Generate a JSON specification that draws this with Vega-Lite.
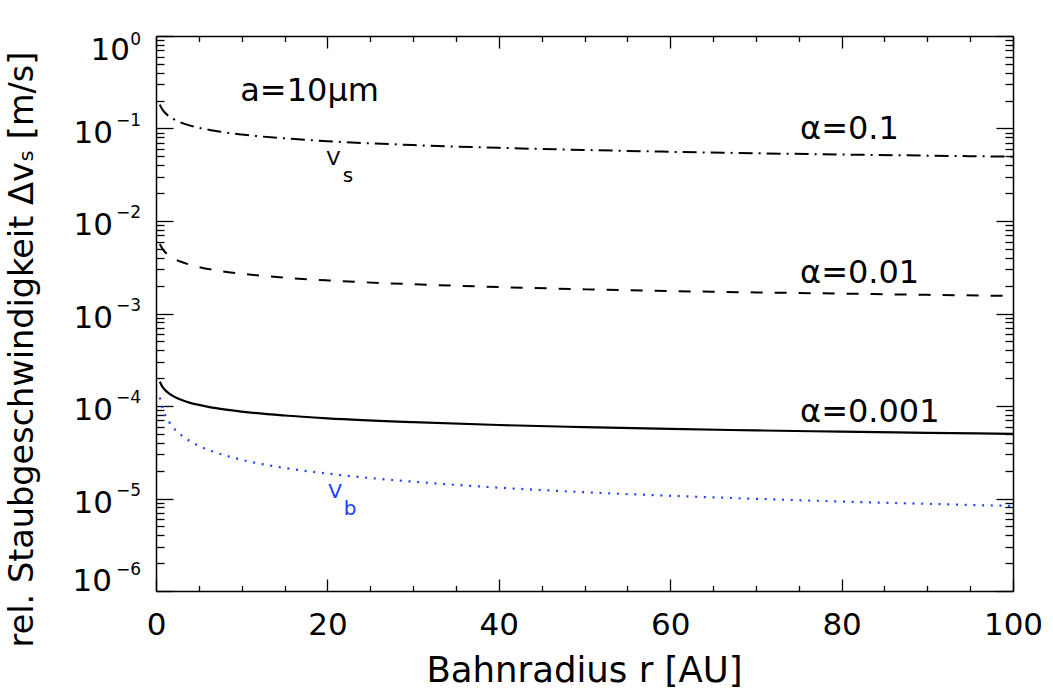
{
  "$schema": "https://vega.github.io/schema/vega-lite/v6.json",
  "autosize": "none",
  "width": 857,
  "height": 555,
  "padding": {"left": 156, "top": 36, "right": 40, "bottom": 105},
  "background": "white",
  "config": {
    "view": {"stroke": null},
    "font": "DejaVu Sans",
    "axis": {
      "grid": false,
      "domainColor": "black",
      "domainWidth": 1.5,
      "tickColor": "black",
      "tickWidth": 1.3,
      "labelFont": "DejaVu Sans",
      "labelFontSize": 31,
      "labelColor": "black",
      "labelOverlap": false,
      "labelBound": false,
      "labelFlush": false,
      "titleFont": "DejaVu Sans",
      "titleFontSize": 33.5,
      "titleFontWeight": "normal",
      "titleColor": "black"
    },
    "text": {"font": "DejaVu Sans", "color": "black", "baseline": "alphabetic"}
  },
  "datasets": {
    "curves": [
      {"r": 0.45, "v": 0.1814, "s": "a01"}, {"r": 0.6, "v": 0.1693, "s": "a01"}, {"r": 0.8, "v": 0.158, "s": "a01"},
      {"r": 1, "v": 0.1498, "s": "a01"}, {"r": 1.5, "v": 0.1359, "s": "a01"}, {"r": 2, "v": 0.1268, "s": "a01"},
      {"r": 3, "v": 0.1151, "s": "a01"}, {"r": 4, "v": 0.1074, "s": "a01"}, {"r": 5, "v": 0.1018, "s": "a01"},
      {"r": 7, "v": 0.0939, "s": "a01"}, {"r": 10, "v": 0.0862, "s": "a01"}, {"r": 15, "v": 0.0782, "s": "a01"},
      {"r": 20, "v": 0.073, "s": "a01"}, {"r": 30, "v": 0.0662, "s": "a01"}, {"r": 40, "v": 0.0618, "s": "a01"},
      {"r": 50, "v": 0.0586, "s": "a01"}, {"r": 60, "v": 0.056, "s": "a01"}, {"r": 70, "v": 0.054, "s": "a01"},
      {"r": 80, "v": 0.0523, "s": "a01"}, {"r": 90, "v": 0.0509, "s": "a01"}, {"r": 100, "v": 0.0496, "s": "a01"},

      {"r": 0.45, "v": 0.00567, "s": "a001"}, {"r": 0.6, "v": 0.00529, "s": "a001"}, {"r": 0.8, "v": 0.00494, "s": "a001"},
      {"r": 1, "v": 0.00468, "s": "a001"}, {"r": 1.5, "v": 0.00425, "s": "a001"}, {"r": 2, "v": 0.00396, "s": "a001"},
      {"r": 3, "v": 0.0036, "s": "a001"}, {"r": 4, "v": 0.00336, "s": "a001"}, {"r": 5, "v": 0.00318, "s": "a001"},
      {"r": 7, "v": 0.00293, "s": "a001"}, {"r": 10, "v": 0.00269, "s": "a001"}, {"r": 15, "v": 0.00244, "s": "a001"},
      {"r": 20, "v": 0.00228, "s": "a001"}, {"r": 30, "v": 0.00207, "s": "a001"}, {"r": 40, "v": 0.00193, "s": "a001"},
      {"r": 50, "v": 0.00183, "s": "a001"}, {"r": 60, "v": 0.00175, "s": "a001"}, {"r": 70, "v": 0.00169, "s": "a001"},
      {"r": 80, "v": 0.00164, "s": "a001"}, {"r": 90, "v": 0.00159, "s": "a001"}, {"r": 100, "v": 0.00155, "s": "a001"},

      {"r": 0.45, "v": 0.000183, "s": "a0001"}, {"r": 0.6, "v": 0.000171, "s": "a0001"}, {"r": 0.8, "v": 0.000159, "s": "a0001"},
      {"r": 1, "v": 0.000151, "s": "a0001"}, {"r": 1.5, "v": 0.000137, "s": "a0001"}, {"r": 2, "v": 0.000128, "s": "a0001"},
      {"r": 3, "v": 0.000116, "s": "a0001"}, {"r": 4, "v": 0.000108, "s": "a0001"}, {"r": 5, "v": 0.000103, "s": "a0001"},
      {"r": 7, "v": 0.0000947, "s": "a0001"}, {"r": 10, "v": 0.0000869, "s": "a0001"}, {"r": 15, "v": 0.0000789, "s": "a0001"},
      {"r": 20, "v": 0.0000736, "s": "a0001"}, {"r": 30, "v": 0.0000668, "s": "a0001"}, {"r": 40, "v": 0.0000623, "s": "a0001"},
      {"r": 50, "v": 0.0000591, "s": "a0001"}, {"r": 60, "v": 0.0000565, "s": "a0001"}, {"r": 70, "v": 0.0000545, "s": "a0001"},
      {"r": 80, "v": 0.0000528, "s": "a0001"}, {"r": 90, "v": 0.0000513, "s": "a0001"}, {"r": 100, "v": 0.00005, "s": "a0001"},

      {"r": 0.45, "v": 0.0001237, "s": "vb"}, {"r": 0.6, "v": 0.0001071, "s": "vb"}, {"r": 0.8, "v": 0.0000928, "s": "vb"},
      {"r": 1, "v": 0.000083, "s": "vb"}, {"r": 1.5, "v": 0.0000678, "s": "vb"}, {"r": 2, "v": 0.0000587, "s": "vb"},
      {"r": 3, "v": 0.0000479, "s": "vb"}, {"r": 4, "v": 0.0000415, "s": "vb"}, {"r": 5, "v": 0.0000371, "s": "vb"},
      {"r": 7, "v": 0.0000314, "s": "vb"}, {"r": 10, "v": 0.0000262, "s": "vb"}, {"r": 15, "v": 0.0000214, "s": "vb"},
      {"r": 20, "v": 0.0000186, "s": "vb"}, {"r": 30, "v": 0.0000152, "s": "vb"}, {"r": 40, "v": 0.0000131, "s": "vb"},
      {"r": 50, "v": 0.0000117, "s": "vb"}, {"r": 60, "v": 0.0000107, "s": "vb"}, {"r": 70, "v": 0.00000992, "s": "vb"},
      {"r": 80, "v": 0.00000928, "s": "vb"}, {"r": 90, "v": 0.00000875, "s": "vb"}, {"r": 100, "v": 0.0000083, "s": "vb"}
    ],
    "decadeTop": [
      {"r": 0, "v": 1, "m": "10", "e": "0"}
    ],
    "decadeMid": [
      {"r": 0, "v": 0.1, "m": "10", "e": "−1"},
      {"r": 0, "v": 0.01, "m": "10", "e": "−2"},
      {"r": 0, "v": 0.001, "m": "10", "e": "−3"},
      {"r": 0, "v": 0.0001, "m": "10", "e": "−4"},
      {"r": 0, "v": 0.00001, "m": "10", "e": "−5"}
    ],
    "decadeBottom": [
      {"r": 0, "v": 0.000001, "m": "10", "e": "−6"}
    ]
  },
  "data": {"name": "curves"},
  "layer": [
    {
      "encoding": {
        "x": {
          "field": "r", "type": "quantitative",
          "scale": {"domain": [0, 100], "nice": false, "zero": false},
          "axis": {
            "orient": "bottom",
            "values": [0, 5, 10, 15, 20, 25, 30, 35, 40, 45, 50, 55, 60, 65, 70, 75, 80, 85, 90, 95, 100],
            "format": "d",
            "labelExpr": "datum.value % 20 == 0 ? datum.label : ''",
            "tickSize": {"condition": {"test": "datum.value % 20 == 0", "value": -12}, "value": -5.5},
            "labelBaseline": "alphabetic",
            "labelPadding": 55,
            "title": "Bahnradius r [AU]",
            "titleFontSize": 35.5,
            "titleX": 428,
            "titleY": 90,
            "titleAlign": "center",
            "titleBaseline": "alphabetic"
          }
        },
        "y": {
          "field": "v", "type": "quantitative",
          "scale": {"type": "log", "domain": [0.000001, 1], "nice": false},
          "axis": {
            "orient": "left",
            "values": [0.000001, 0.000002, 0.000003, 0.000004, 0.000005, 0.000006, 0.000007, 0.000008, 0.000009,
                       0.00001, 0.00002, 0.00003, 0.00004, 0.00005, 0.00006, 0.00007, 0.00008, 0.00009,
                       0.0001, 0.0002, 0.0003, 0.0004, 0.0005, 0.0006, 0.0007, 0.0008, 0.0009,
                       0.001, 0.002, 0.003, 0.004, 0.005, 0.006, 0.007, 0.008, 0.009,
                       0.01, 0.02, 0.03, 0.04, 0.05, 0.06, 0.07, 0.08, 0.09,
                       0.1, 0.2, 0.3, 0.4, 0.5, 0.6, 0.7, 0.8, 0.9, 1],
            "labels": false,
            "tickSize": {"condition": {"test": "abs(log(datum.value)/LN10 - round(log(datum.value)/LN10)) < 0.000001", "value": -17}, "value": -8},
            "title": "rel. Staubgeschwindigkeit Δvₛ [m/s]",
            "titleAngle": 270,
            "titleX": -124,
            "titleY": 313,
            "titleAlign": "center",
            "titleBaseline": "alphabetic"
          }
        }
      },
      "layer": [
        {
          "transform": [{"filter": "datum.s == 'a01'"}],
          "mark": {"type": "line", "color": "black", "strokeWidth": 2, "strokeDash": [14, 6, 2, 6], "interpolate": "monotone", "clip": true}
        },
        {
          "transform": [{"filter": "datum.s == 'a001'"}],
          "mark": {"type": "line", "color": "black", "strokeWidth": 2, "strokeDash": [12, 12], "interpolate": "monotone", "clip": true}
        },
        {
          "transform": [{"filter": "datum.s == 'a0001'"}],
          "mark": {"type": "line", "color": "black", "strokeWidth": 2.2, "interpolate": "monotone", "clip": true}
        },
        {
          "transform": [{"filter": "datum.s == 'vb'"}],
          "mark": {"type": "line", "color": "#2040ff", "strokeWidth": 2.2, "strokeDash": [2, 6.7], "interpolate": "monotone", "clip": true}
        },
        {
          "data": {"name": "decadeTop"},
          "mark": {"type": "text", "align": "right", "fontSize": 31, "dx": -26, "dy": 24},
          "encoding": {"text": {"field": "m"}}
        },
        {
          "data": {"name": "decadeTop"},
          "mark": {"type": "text", "align": "right", "fontSize": 17, "dx": -15, "dy": 9},
          "encoding": {"text": {"field": "e"}}
        },
        {
          "data": {"name": "decadeMid"},
          "mark": {"type": "text", "align": "right", "fontSize": 31, "dx": -43, "dy": 14},
          "encoding": {"text": {"field": "m"}}
        },
        {
          "data": {"name": "decadeMid"},
          "mark": {"type": "text", "align": "right", "fontSize": 17, "dx": -15, "dy": -3},
          "encoding": {"text": {"field": "e"}}
        },
        {
          "data": {"name": "decadeBottom"},
          "mark": {"type": "text", "align": "right", "fontSize": 31, "dx": -44, "dy": 0},
          "encoding": {"text": {"field": "m"}}
        },
        {
          "data": {"name": "decadeBottom"},
          "mark": {"type": "text", "align": "right", "fontSize": 17, "dx": -15, "dy": -16},
          "encoding": {"text": {"field": "e"}}
        },
        {
          "data": {"values": [
            {"r": 9.83, "v": 0.198, "t": "a=10μm"},
            {"r": 75.15, "v": 0.0764, "t": "α=0.1"},
            {"r": 75.15, "v": 0.00214, "t": "α=0.01"},
            {"r": 75.15, "v": 0.0000676, "t": "α=0.001"}
          ]},
          "mark": {"type": "text", "align": "left", "fontSize": 32},
          "encoding": {"text": {"field": "t"}}
        },
        {
          "data": {"values": [
            {"r": 20.7, "v": 0.0403, "t": "V"},
            {"r": 22.4, "v": 0.0266, "t": "s"}
          ]},
          "mark": {"type": "text", "align": "center", "fontSize": 20},
          "encoding": {"text": {"field": "t"}}
        },
        {
          "data": {"values": [
            {"r": 20.9, "v": 0.00001005, "t": "V"},
            {"r": 22.66, "v": 0.00000659, "t": "b"}
          ]},
          "mark": {"type": "text", "align": "center", "fontSize": 20, "color": "#2040ff"},
          "encoding": {"text": {"field": "t"}}
        }
      ]
    },
    {
      "mark": {"type": "point", "opacity": 0},
      "encoding": {
        "x": {
          "field": "r", "type": "quantitative",
          "scale": {"domain": [0, 100], "nice": false, "zero": false},
          "axis": {
            "orient": "top",
            "values": [0, 5, 10, 15, 20, 25, 30, 35, 40, 45, 50, 55, 60, 65, 70, 75, 80, 85, 90, 95, 100],
            "labels": false,
            "title": null,
            "tickSize": {"condition": {"test": "datum.value % 20 == 0", "value": -12}, "value": -5.5}
          }
        },
        "y": {
          "field": "v", "type": "quantitative",
          "scale": {"type": "log", "domain": [0.000001, 1], "nice": false},
          "axis": {
            "orient": "right",
            "values": [0.000001, 0.000002, 0.000003, 0.000004, 0.000005, 0.000006, 0.000007, 0.000008, 0.000009,
                       0.00001, 0.00002, 0.00003, 0.00004, 0.00005, 0.00006, 0.00007, 0.00008, 0.00009,
                       0.0001, 0.0002, 0.0003, 0.0004, 0.0005, 0.0006, 0.0007, 0.0008, 0.0009,
                       0.001, 0.002, 0.003, 0.004, 0.005, 0.006, 0.007, 0.008, 0.009,
                       0.01, 0.02, 0.03, 0.04, 0.05, 0.06, 0.07, 0.08, 0.09,
                       0.1, 0.2, 0.3, 0.4, 0.5, 0.6, 0.7, 0.8, 0.9, 1],
            "labels": false,
            "title": null,
            "tickSize": {"condition": {"test": "abs(log(datum.value)/LN10 - round(log(datum.value)/LN10)) < 0.000001", "value": -17}, "value": -8}
          }
        }
      }
    }
  ],
  "resolve": {"axis": {"x": "independent", "y": "independent"}}
}
